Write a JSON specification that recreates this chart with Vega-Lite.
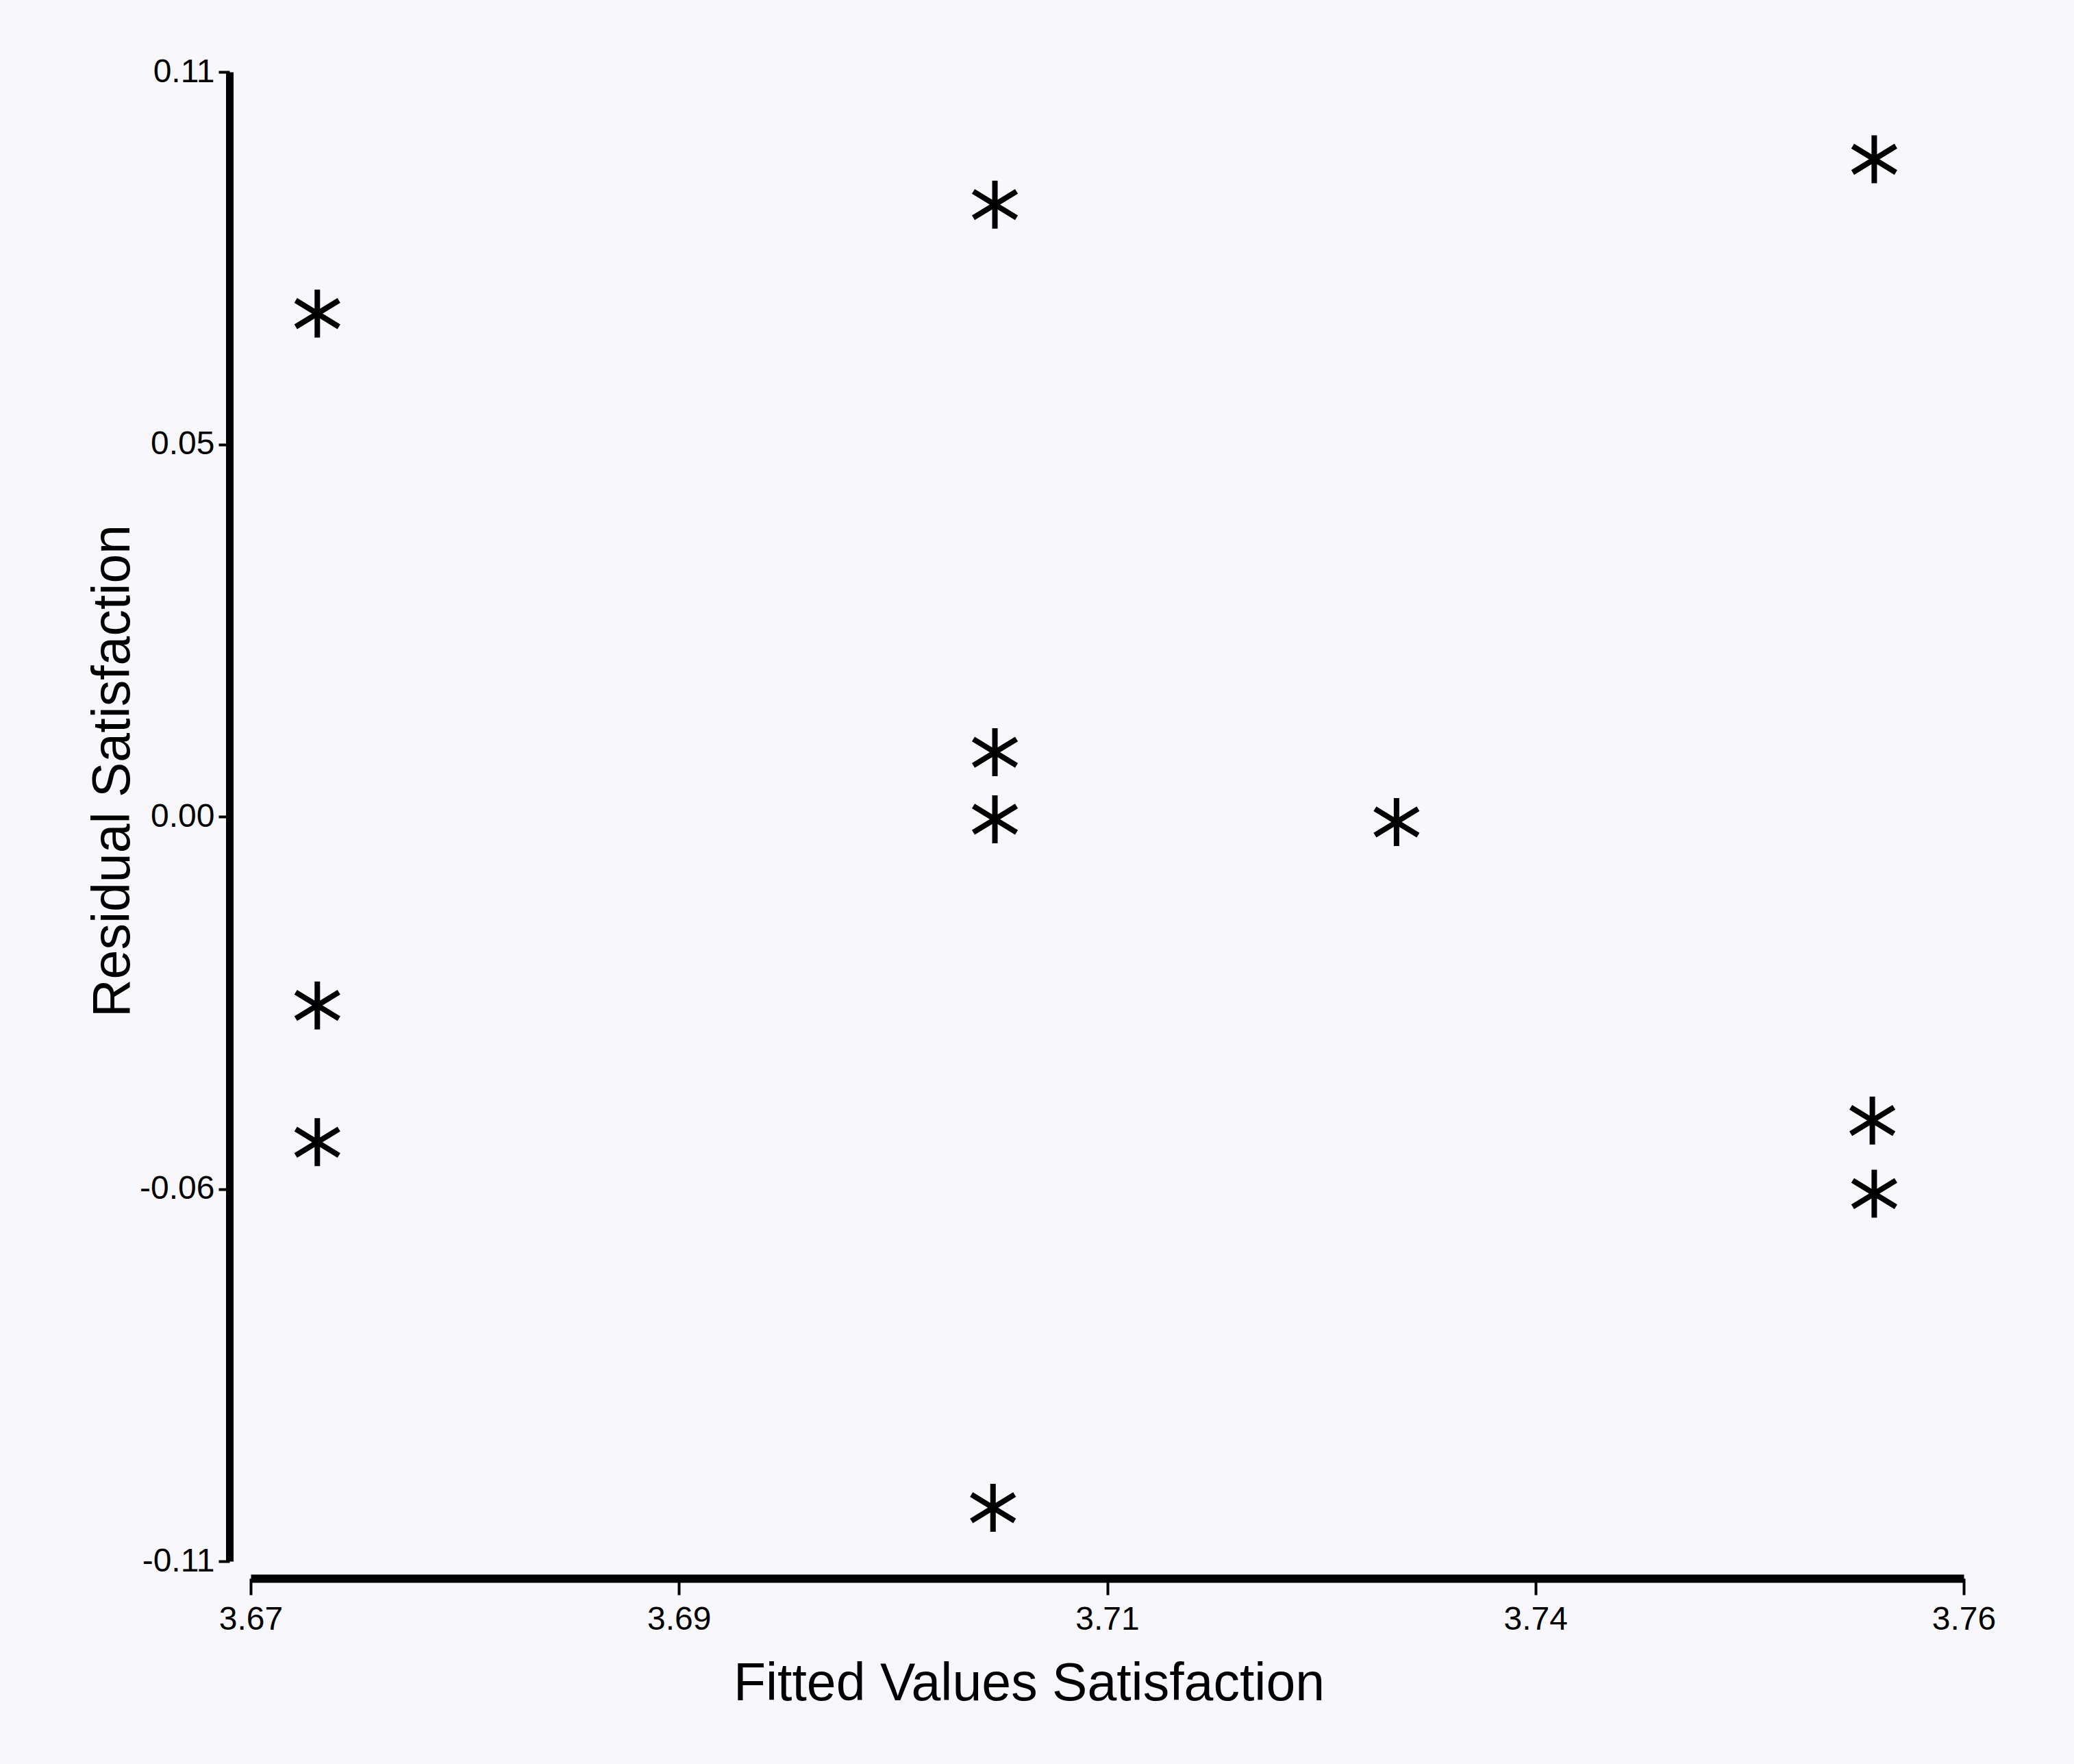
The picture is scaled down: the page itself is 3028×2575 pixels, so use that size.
{
  "$schema": "https://vega.github.io/schema/vega-lite/v6.json",
  "width": 2501,
  "height": 2174,
  "autosize": "none",
  "padding": {"left": 366, "top": 105, "right": 161, "bottom": 296},
  "background": "#f8f8fc",
  "config": {"view": {"stroke": null}, "font": "Liberation Sans"},
  "data": {
    "values": [
      {"fitted": 3.6735, "residual": 0.0743},
      {"fitted": 3.6735, "residual": -0.0279},
      {"fitted": 3.6735, "residual": -0.0481},
      {"fitted": 3.7091, "residual": 0.0904},
      {"fitted": 3.7091, "residual": 0.0095},
      {"fitted": 3.7091, "residual": -0.0004},
      {"fitted": 3.7090, "residual": -0.1021},
      {"fitted": 3.7302, "residual": -0.0008},
      {"fitted": 3.7553, "residual": 0.0971},
      {"fitted": 3.7552, "residual": -0.0449},
      {"fitted": 3.7553, "residual": -0.0557}
    ]
  },
  "mark": {
    "type": "point",
    "shape": "M0,-1L0,1M-0.9,-0.55L0.9,0.55M-0.9,0.55L0.9,-0.55",
    "filled": false,
    "stroke": "black",
    "strokeWidth": 8,
    "size": 4900,
    "opacity": 1,
    "strokeOpacity": 1
  },
  "encoding": {
    "x": {
      "field": "fitted",
      "type": "quantitative",
      "scale": {"domain": [3.67, 3.76], "nice": false, "zero": false},
      "axis": {
        "title": "Fitted Values Satisfaction",
        "values": [3.67, 3.6925, 3.715, 3.7375, 3.76],
        "labelExpr": "datum.value < 3.68 ? '3.67' : datum.value < 3.70 ? '3.69' : datum.value < 3.72 ? '3.71' : datum.value < 3.75 ? '3.74' : '3.76'",
        "grid": false,
        "offset": 25,
        "domainColor": "black",
        "domainWidth": 12,
        "tickColor": "black",
        "tickWidth": 4,
        "tickSize": 24,
        "labelFont": "Liberation Sans",
        "labelFontSize": 48,
        "labelColor": "black",
        "labelPadding": 12,
        "labelFlush": false,
        "labelOverlap": false,
        "titleFont": "Liberation Sans",
        "titleFontSize": 77,
        "titleFontWeight": "normal",
        "titleColor": "black",
        "titleX": 1136,
        "titleY": 177,
        "titleBaseline": "alphabetic",
        "titleAlign": "center"
      }
    },
    "y": {
      "field": "residual",
      "type": "quantitative",
      "scale": {"domain": [-0.11, 0.11], "nice": false, "zero": false},
      "axis": {
        "title": "Residual Satisfaction",
        "values": [-0.11, -0.055, 0, 0.055, 0.11],
        "labelExpr": "datum.value > 0.1 ? '0.11' : datum.value > 0.05 ? '0.05' : datum.value > -0.01 ? '0.00' : datum.value > -0.1 ? '-0.06' : '-0.11'",
        "grid": false,
        "offset": 31,
        "domainColor": "black",
        "domainWidth": 11,
        "tickColor": "black",
        "tickWidth": 4,
        "tickSize": 16,
        "labelFont": "Liberation Sans",
        "labelFontSize": 48,
        "labelColor": "black",
        "labelPadding": 6,
        "labelFlush": false,
        "labelOverlap": false,
        "titleFont": "Liberation Sans",
        "titleFontSize": 77,
        "titleFontWeight": "normal",
        "titleColor": "black",
        "titleAngle": 270,
        "titleX": -147,
        "titleY": 1020,
        "titleBaseline": "alphabetic",
        "titleAlign": "center"
      }
    }
  }
}
